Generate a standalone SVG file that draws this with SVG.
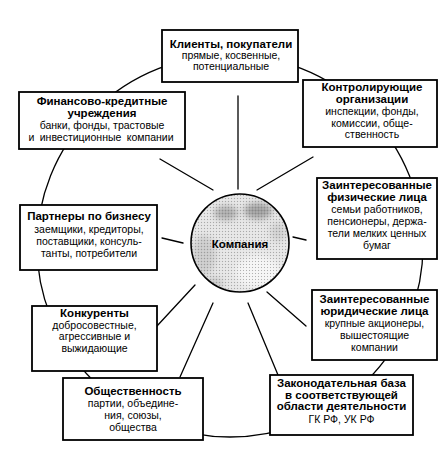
<svg xmlns="http://www.w3.org/2000/svg" width="448" height="468" viewBox="0 0 448 468">
<defs>
<style>
.box{fill:#fff;stroke:#000;stroke-width:1.8}
.ln{stroke:#000;stroke-width:1.3;fill:none;stroke-linecap:round}
text{font-family:"Liberation Sans",Arial,sans-serif;text-anchor:middle;fill:#000}
.t{font-size:11.5px;font-weight:bold}
.s{font-size:10.5px}
</style>
<clipPath id="cc"><circle cx="240" cy="243" r="49"/></clipPath>
<filter id="bl" x="-50%" y="-50%" width="200%" height="200%"><feGaussianBlur stdDeviation="3"/></filter>
<pattern id="dots" width="3" height="3" patternUnits="userSpaceOnUse"><rect x="0" y="0" width="1" height="1" fill="#7a7a7a" opacity="0.55"/><rect x="1.5" y="1.5" width="1" height="1" fill="#ffffff" opacity="0.6"/></pattern>
</defs>
<rect width="448" height="468" fill="#fff"/>
<g id="connectors">
<ellipse class="ln" cx="230" cy="246" rx="193" ry="191"/>
<line class="ln" x1="238" y1="96" x2="238" y2="189"/>
<line class="ln" x1="160" y1="159" x2="213" y2="190"/>
<line class="ln" x1="257" y1="190" x2="313" y2="157"/>
<line class="ln" x1="162" y1="238" x2="183" y2="243"/>
<line class="ln" x1="293" y1="237" x2="306" y2="240"/>
<line class="ln" x1="195" y1="285" x2="157" y2="326"/>
<line class="ln" x1="213" y1="303" x2="180" y2="377"/>
<line class="ln" x1="248" y1="303" x2="278" y2="375"/>
<line class="ln" x1="267" y1="292" x2="306" y2="326"/>
</g>
<g id="company">
<circle cx="240" cy="243" r="49" fill="#e4e4e4"/>
<g clip-path="url(#cc)">
<g filter="url(#bl)">
<ellipse cx="226" cy="213" rx="12" ry="7" fill="#a4a4a4"/>
<ellipse cx="258" cy="211" rx="14" ry="8" fill="#989898"/>
<ellipse cx="204" cy="255" rx="12" ry="20" fill="#c8c8c8"/>
<ellipse cx="214" cy="284" rx="9" ry="7" fill="#c2c2c2"/>
<ellipse cx="258" cy="272" rx="22" ry="16" fill="#f4f4f4"/>
<ellipse cx="278" cy="232" rx="8" ry="10" fill="#cccccc"/>
</g>
<circle cx="240" cy="243" r="49" fill="url(#dots)"/>
</g>
<circle cx="240" cy="243" r="49" fill="none" stroke="#000" stroke-width="1.6"/>
<text class="t" x="240" y="248">Компания</text>
</g>
<g id="clients">
<rect class="box" x="162" y="30" width="136" height="52"/>
<text class="t" x="231" y="48">Клиенты, покупатели</text>
<text class="s" x="231" y="59">прямые, косвенные,</text>
<text class="s" x="231" y="70">потенциальные</text>
</g>
<g id="control">
<rect class="box" x="303" y="80" width="134" height="67"/>
<text class="t" x="372" y="91">Контролирующие</text>
<text class="t" x="372" y="103">организации</text>
<text class="s" x="372" y="115">инспекции, фонды,</text>
<text class="s" x="372" y="126.5">комиссии, обще-</text>
<text class="s" x="372" y="138">ственность</text>
</g>
<g id="finance">
<rect class="box" x="19" y="92" width="166" height="57"/>
<text class="t" x="102" y="105">Финансово-кредитные</text>
<text class="t" x="102" y="116.5">учреждения</text>
<text class="s" x="102" y="128.5">банки, фонды, трастовые</text>
<text class="s" x="101" y="141" word-spacing="2.5">и инвестиционные компании</text>
</g>
<g id="individuals">
<rect class="box" x="317" y="178" width="120" height="81"/>
<text class="t" x="377" y="189">Заинтересованные</text>
<text class="t" x="377" y="201">физические лица</text>
<text class="s" x="377" y="213">семьи работников,</text>
<text class="s" x="377" y="225">пенсионеры, держа-</text>
<text class="s" x="377" y="237">тели мелких ценных</text>
<text class="s" x="377" y="248.5">бумаг</text>
</g>
<g id="partners">
<rect class="box" x="20" y="205" width="137" height="65"/>
<text class="t" x="89" y="220">Партнеры по бизнесу</text>
<text class="s" x="89" y="232.5">заемщики, кредиторы,</text>
<text class="s" x="89" y="244.5">поставщики, консуль-</text>
<text class="s" x="89" y="256.5">танты, потребители</text>
</g>
<g id="legal">
<rect class="box" x="312" y="290" width="125" height="70"/>
<text class="t" x="374.5" y="303">Заинтересованные</text>
<text class="t" x="374.5" y="315">юридические лица</text>
<text class="s" x="374.5" y="327">крупные акционеры,</text>
<text class="s" x="374.5" y="339">вышестоящие</text>
<text class="s" x="374.5" y="351">компании</text>
</g>
<g id="competitors">
<rect class="box" x="32" y="306" width="125" height="65"/>
<text class="t" x="94.5" y="317">Конкуренты</text>
<text class="s" x="94.5" y="328.5">добросовестные,</text>
<text class="s" x="94.5" y="340">агрессивные и</text>
<text class="s" x="94.5" y="352">выжидающие</text>
</g>
<g id="public">
<rect class="box" x="63" y="378" width="140" height="62"/>
<text class="t" x="133" y="395">Общественность</text>
<text class="s" x="133" y="407">партии, объедине-</text>
<text class="s" x="133" y="419">ния, союзы,</text>
<text class="s" x="133" y="431">общества</text>
</g>
<g id="law">
<rect class="box" x="270" y="375" width="143" height="60"/>
<text class="t" x="341.5" y="387">Законодательная база</text>
<text class="t" x="341.5" y="398.5">в соответствующей</text>
<text class="t" x="341.5" y="410">области деятельности</text>
<text class="s" x="341.5" y="423">ГК РФ, УК РФ</text>
</g>
</svg>
